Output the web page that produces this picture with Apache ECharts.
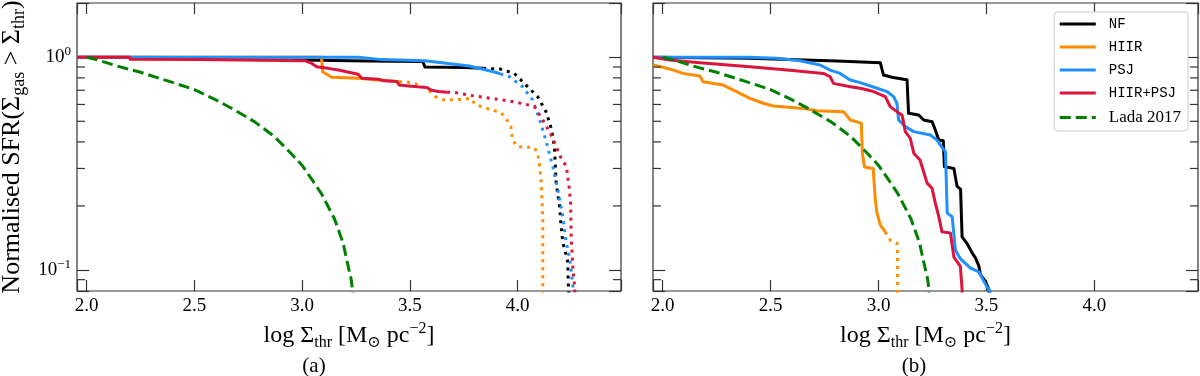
<!DOCTYPE html>
<html>
<head>
<meta charset="utf-8">
<script src="https://cdn.jsdelivr.net/npm/echarts@6/dist/echarts.min.js"></script>
<style>
    html, body { margin: 0; padding: 0; background: #fff; }
    #chart { width: 1200px; height: 376px; }
</style>
</head>
<body>
<div id="chart"></div>
<script>
var X_MIN = 1.955, X_MAX = 4.48;
var Y_MIN = 0.0796, Y_MAX = 1.8;

var legendNames = ['NF', 'HIIR', 'PSJ', 'HIIR+PSJ', 'Lada 2017'];
var minorTicks = [0.09, 0.2, 0.3, 0.4, 0.5, 0.6, 0.7, 0.8, 0.9];

// panel (a): solid part, then dotted continuation
var nfSolidA = [[1.955, 1], [2.95, 0.995], [3.0, 0.97], [3.3, 0.96], [3.56, 0.955], [3.57, 0.90], [3.75, 0.895], [3.84, 0.887]];
var nfDotA = [[3.84, 0.887], [3.92, 0.88], [3.985, 0.84], [4.039, 0.74], [4.093, 0.653], [4.132, 0.555], [4.156, 0.464],
    [4.171, 0.38], [4.175, 0.312], [4.179, 0.256], [4.195, 0.199], [4.202, 0.16], [4.21, 0.134], [4.232, 0.111], [4.236, 0.0835], [4.24, 0.07]];
var hiirSolidA = [[1.955, 1], [3.09, 1.0], [3.095, 0.855], [3.137, 0.805], [3.262, 0.797], [3.355, 0.782], [3.4, 0.776], [3.45, 0.768]];
var hiirDotA = [[3.45, 0.768], [3.486, 0.765], [3.55, 0.74], [3.587, 0.70], [3.618, 0.653], [3.657, 0.63], [3.743, 0.634], [3.782, 0.641],
    [3.806, 0.597], [3.883, 0.565], [3.922, 0.55], [3.946, 0.517], [3.969, 0.472], [3.977, 0.408], [4.0, 0.38], [4.078, 0.376],
    [4.093, 0.354], [4.101, 0.317], [4.109, 0.265], [4.117, 0.178], [4.117, 0.07]];
var psjSolidA = [[1.955, 1], [3.26, 1.0], [3.37, 0.975], [3.57, 0.964], [3.776, 0.91], [3.897, 0.85], [3.92, 0.835]];
var psjDotA = [[3.92, 0.835], [3.963, 0.81], [4.023, 0.727], [4.07, 0.63], [4.103, 0.507], [4.131, 0.408], [4.164, 0.305],
    [4.187, 0.238], [4.21, 0.178], [4.224, 0.138], [4.243, 0.111], [4.257, 0.083], [4.26, 0.07]];
var hiirPsjSolidA = [[1.955, 1], [2.2, 1], [2.202, 0.978], [2.51, 0.975], [2.514, 0.971], [3.013, 0.964], [3.044, 0.937],
    [3.067, 0.903], [3.121, 0.887], [3.168, 0.871], [3.26, 0.832], [3.277, 0.797], [3.355, 0.788], [3.38, 0.775], [3.44, 0.77],
    [3.45, 0.74], [3.494, 0.733], [3.58, 0.72], [3.6, 0.70], [3.634, 0.69], [3.673, 0.685]];
var hiirPsjDotA = [[3.673, 0.685], [3.712, 0.682], [3.79, 0.66], [3.875, 0.641], [3.961, 0.623], [4.039, 0.601], [4.078, 0.586],
    [4.117, 0.507], [4.156, 0.431], [4.202, 0.335], [4.226, 0.308], [4.237, 0.256], [4.246, 0.21], [4.249, 0.143], [4.257, 0.1],
    [4.265, 0.0835], [4.268, 0.07]];

// Lada 2017 curve, same in both panels
var lada = [[2.0, 1.0], [2.05, 0.972], [2.14, 0.91], [2.25, 0.85], [2.38, 0.772], [2.5, 0.705], [2.6, 0.63], [2.68, 0.57],
    [2.78, 0.497], [2.87, 0.425], [2.95, 0.352], [3.0, 0.31], [3.05, 0.262], [3.09, 0.228], [3.15, 0.174], [3.19, 0.134],
    [3.21, 0.108], [3.228, 0.09], [3.24, 0.07]];

// panel (b)
var nfB = [[1.955, 1], [2.404, 0.99], [2.807, 0.96], [3.008, 0.943], [3.023, 0.825], [3.062, 0.805], [3.116, 0.788], [3.132, 0.785],
    [3.139, 0.545], [3.186, 0.535], [3.209, 0.507], [3.248, 0.498], [3.263, 0.455], [3.279, 0.408], [3.30, 0.405], [3.305, 0.306],
    [3.349, 0.30], [3.36, 0.26], [3.364, 0.247], [3.38, 0.24], [3.387, 0.143], [3.41, 0.133], [3.434, 0.12], [3.449, 0.114],
    [3.465, 0.104], [3.472, 0.095], [3.496, 0.088], [3.511, 0.081], [3.52, 0.07]];
var hiirSolidB = [[1.955, 0.92], [2.0, 0.897], [2.05, 0.87], [2.094, 0.84], [2.172, 0.817], [2.187, 0.768], [2.28, 0.74],
    [2.342, 0.69], [2.404, 0.641], [2.466, 0.608], [2.512, 0.59], [2.652, 0.575], [2.714, 0.56], [2.838, 0.555], [2.869, 0.507],
    [2.92, 0.49], [2.925, 0.354], [2.935, 0.305], [2.975, 0.30], [2.985, 0.213], [2.993, 0.185], [3.008, 0.163], [3.031, 0.151]];
var hiirDotB = [[3.031, 0.151], [3.054, 0.138], [3.085, 0.134], [3.088, 0.12], [3.088, 0.07]];
var psjB = [[1.955, 1], [2.40, 1.0], [2.528, 0.99], [2.636, 0.964], [2.729, 0.92], [2.776, 0.87], [2.822, 0.84], [2.869, 0.782],
    [2.915, 0.76], [2.993, 0.715], [3.039, 0.69], [3.07, 0.653], [3.085, 0.608], [3.093, 0.507], [3.124, 0.472], [3.163, 0.447],
    [3.24, 0.431], [3.271, 0.408], [3.294, 0.377], [3.31, 0.36], [3.318, 0.185], [3.341, 0.178], [3.356, 0.124], [3.379, 0.113],
    [3.426, 0.102], [3.465, 0.098], [3.48, 0.0915], [3.503, 0.083], [3.518, 0.0788], [3.525, 0.07]];
var hiirPsjB = [[1.955, 1], [2.033, 0.97], [2.172, 0.943], [2.404, 0.903], [2.59, 0.87], [2.745, 0.84], [2.776, 0.81], [2.791, 0.754],
    [2.869, 0.727], [2.915, 0.715], [2.977, 0.69], [3.031, 0.653], [3.054, 0.586], [3.085, 0.555], [3.109, 0.535], [3.124, 0.447],
    [3.147, 0.416], [3.163, 0.354], [3.192, 0.329], [3.225, 0.256], [3.248, 0.242], [3.263, 0.206], [3.279, 0.178], [3.294, 0.151],
    [3.333, 0.149], [3.349, 0.115], [3.379, 0.104], [3.387, 0.081], [3.388, 0.07]];

var COLORS = { nf: '#000000', hiir: '#ff8c00', psj: '#1e90ff', both: '#dc143c', lada: '#008000' };
var SERIF = "'Liberation Serif', 'DejaVu Serif', serif";
var MONO = "'Liberation Mono', 'DejaVu Sans Mono', monospace";
var FRAME = '#333';
var DOT = [3, 5];
var DASH = [11, 5];

var lineSeries = function (name, data, color, type, panel) {
    return {
        name: name,
        type: 'line',
        xAxisIndex: panel * 2,
        yAxisIndex: panel * 2,
        data: data,
        symbol: 'none',
        showSymbol: false,
        silent: true,
        lineStyle: { color: color, width: 3, type: type, cap: 'butt', join: 'round' },
        itemStyle: { color: color },
        z: 3
    };
};

var minorTickSeries = function (panel) {
    return {
        name: 'minor' + panel,
        type: 'custom',
        xAxisIndex: panel * 2,
        yAxisIndex: panel * 2,
        silent: true,
        clip: false,
        z: 5,
        data: minorTicks.map(function (v) { return [X_MIN, v]; }),
        renderItem: function (params, api) {
            var l = api.coord([X_MIN, api.value(1)]);
            var r = api.coord([X_MAX, api.value(1)]);
            var st = { stroke: FRAME, lineWidth: 1.2 };
            return {
                type: 'group',
                children: [
                    { type: 'line', shape: { x1: l[0], y1: l[1], x2: l[0] + 8, y2: l[1] }, style: st },
                    { type: 'line', shape: { x1: r[0] - 8, y1: r[1], x2: r[0], y2: r[1] }, style: st }
                ]
            };
        }
    };
};

var xFormatter = function (v) {
    var k = v * 2;
    if (Math.abs(k - Math.round(k)) > 1e-6) return '';
    return v.toFixed(1);
};
var yFormatter = function (v) {
    var lg = Math.log(v) / Math.LN10;
    var e = Math.round(lg);
    if (Math.abs(lg - e) > 1e-6) return '';
    return '{b|10}{s|' + (e < 0 ? '\u2212' + (-e) : e) + '}';
};

var nameRich = function (size) {
    var small = Math.round(size * 0.68);
    return {
        m: { fontFamily: SERIF, fontSize: size, lineHeight: size + 6, color: '#000' },
        sub: { fontFamily: SERIF, fontSize: small, lineHeight: small, verticalAlign: 'bottom', color: '#000' },
        sup: { fontFamily: SERIF, fontSize: small, lineHeight: small, verticalAlign: 'top', color: '#000' }
    };
};

var makeX = function (grid, pos, showLabel) {
    return {
        gridIndex: grid,
        type: 'value',
        position: pos,
        min: X_MIN,
        max: X_MAX,
        splitNumber: 5,
        splitLine: { show: false },
        axisLine: { show: false },
        axisTick: { show: true, inside: true, length: 11, lineStyle: { color: FRAME, width: 1.2 } },
        axisLabel: {
            show: showLabel, margin: 6, formatter: xFormatter,
            fontFamily: SERIF, fontSize: 19, color: '#000'
        },
        name: showLabel ? '{m|log \u03A3}{sub|thr}{m| [M}{sub|\u2299}{m| pc}{sup|\u22122}{m|]}' : '',
        nameLocation: 'middle',
        nameGap: 27,
        nameTextStyle: { rich: nameRich(24) }
    };
};

var makeY = function (grid, pos, showLabel, showName) {
    return {
        gridIndex: grid,
        type: 'log',
        logBase: 10,
        position: pos,
        min: Y_MIN,
        max: Y_MAX,
        splitLine: { show: false },
        axisLine: { show: false },
        minorTick: { show: false },
        axisTick: { show: true, inside: true, length: 12, lineStyle: { color: FRAME, width: 1.2 } },
        axisLabel: {
            show: showLabel, margin: 6, formatter: yFormatter,
            rich: {
                b: { fontFamily: SERIF, fontSize: 19, lineHeight: 24, color: '#000' },
                s: { fontFamily: SERIF, fontSize: 13, lineHeight: 13, verticalAlign: 'top', color: '#000' }
            }
        },
        name: showName ? '{m|Normalised SFR(\u03A3}{sub|gas}{m| > \u03A3}{sub|thr}{m|)}' : '',
        nameLocation: 'middle',
        nameGap: 49,
        nameTextStyle: { rich: nameRich(26) }
    };
};

var init_chart = function () {
    var myChart = echarts.init(document.getElementById('chart'), null, { renderer: 'canvas' });

    var series = [
        lineSeries('NF (a)', nfSolidA, COLORS.nf, 'solid', 0),
        lineSeries('NF (a) dotted', nfDotA, COLORS.nf, DOT, 0),
        lineSeries('HIIR (a)', hiirSolidA, COLORS.hiir, 'solid', 0),
        lineSeries('HIIR (a) dotted', hiirDotA, COLORS.hiir, DOT, 0),
        lineSeries('PSJ (a)', psjSolidA, COLORS.psj, 'solid', 0),
        lineSeries('PSJ (a) dotted', psjDotA, COLORS.psj, DOT, 0),
        lineSeries('HIIR+PSJ (a)', hiirPsjSolidA, COLORS.both, 'solid', 0),
        lineSeries('HIIR+PSJ (a) dotted', hiirPsjDotA, COLORS.both, DOT, 0),
        lineSeries('Lada (a)', lada, COLORS.lada, DASH, 0),
        lineSeries('NF', nfB, COLORS.nf, 'solid', 1),
        lineSeries('HIIR', hiirSolidB, COLORS.hiir, 'solid', 1),
        lineSeries('HIIR dotted', hiirDotB, COLORS.hiir, DOT, 1),
        lineSeries('PSJ', psjB, COLORS.psj, 'solid', 1),
        lineSeries('HIIR+PSJ', hiirPsjB, COLORS.both, 'solid', 1),
        lineSeries('Lada 2017', lada, COLORS.lada, DASH, 1),
        minorTickSeries(0),
        minorTickSeries(1)
    ];

    var option = {
        animation: false,
        backgroundColor: '#fff',
        grid: [
            { left: 77, right: 579, top: 3, bottom: 85, show: true, borderColor: FRAME, borderWidth: 1.2, backgroundColor: 'transparent', outerBoundsMode: 'none' },
            { left: 653, right: 2, top: 3, bottom: 85, show: true, borderColor: FRAME, borderWidth: 1.2, backgroundColor: 'transparent', outerBoundsMode: 'none' }
        ],
        xAxis: [makeX(0, 'bottom', true), makeX(0, 'top', false), makeX(1, 'bottom', true), makeX(1, 'top', false)],
        yAxis: [makeY(0, 'left', true, true), makeY(0, 'right', false, false), makeY(1, 'left', false, false), makeY(1, 'right', false, false)],
        legend: {
            data: legendNames,
            orient: 'vertical',
            right: 12,
            top: 12,
            itemWidth: 36,
            itemHeight: 14,
            itemGap: 9,
            padding: [5, 7, 5, 4],
            borderColor: '#cccccc',
            borderWidth: 1,
            borderRadius: 3,
            backgroundColor: '#fff',
            selectedMode: false,
            lineStyle: { width: 3 },
            itemStyle: { opacity: 0, borderWidth: 0 },
            formatter: function (name) {
                return name === 'Lada 2017' ? '{s|' + name + '}' : '{m|' + name + '}';
            },
            textStyle: {
                rich: {
                    m: { fontFamily: MONO, fontSize: 14, lineHeight: 14, color: '#000', padding: [0, 0, 0, 8] },
                    s: { fontFamily: SERIF, fontSize: 17, lineHeight: 14, color: '#000', padding: [0, 0, 0, 8] }
                }
            }
        },
        graphic: [
            { type: 'text', x: 314, y: 366, style: { text: '(a)', font: '21px ' + SERIF, fill: '#000', textAlign: 'center', textVerticalAlign: 'middle' } },
            { type: 'text', x: 914, y: 366, style: { text: '(b)', font: '21px ' + SERIF, fill: '#000', textAlign: 'center', textVerticalAlign: 'middle' } }
        ],
        series: series
    };

    myChart.setOption(option);
};

init_chart();
</script>
</body>
</html>
